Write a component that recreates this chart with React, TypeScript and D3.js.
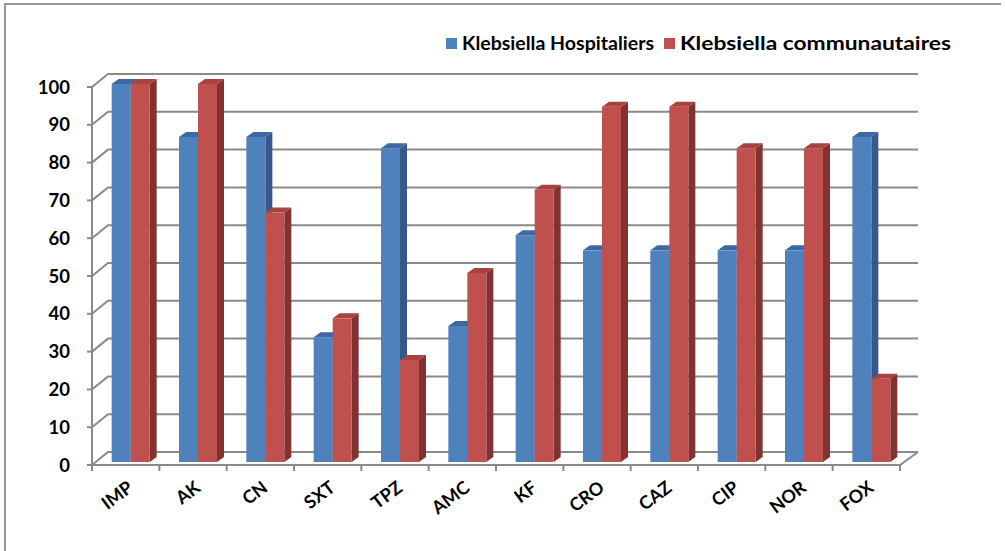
import React from "react";
import * as d3 from "d3";

const categories = ["IMP", "AK", "CN", "SXT", "TPZ", "AMC", "KF", "CRO", "CAZ", "CIP", "NOR", "FOX"];
const hospitaliers = [100, 86, 86, 33, 83, 36, 60, 56, 56, 56, 56, 86];
const communautaires = [100, 100, 66, 38, 27, 50, 72, 94, 94, 83, 83, 22];
const seriesNames = ["Klebsiella Hospitaliers", "Klebsiella communautaires"];
const yTicks = [0, 10, 20, 30, 40, 50, 60, 70, 80, 90, 100];

const W = 1005;
const H = 551;
const FONT = "Lato, 'Open Sans', sans-serif";

const palettes = [
  { front: "#4F81BD", side: "#36598A", top: "#3D68A3" },
  { front: "#C0504D", side: "#823331", top: "#A6423F" },
];

export default function App() {
  const x0 = 92;
  const x1 = 900;
  const yFront = d3.scaleLinear().domain([0, 100]).range([465, 87]);
  const band = d3.scaleBand().domain(categories).range([x0, x1]).padding(0);
  const wallDX = 16;
  const wallDY = -13;
  const barDX = 4;
  const barDY = -3;
  const barW = 19;
  const depX = 7;
  const depY = -5;
  const grid = "#8a8a8a";

  const series = [hospitaliers, communautaires];

  const bars: JSX.Element[] = [];
  categories.forEach((c, i) => {
    const center = (band(c) as number) + band.bandwidth() / 2 + 1 + barDX;
    series.forEach((vals, s) => {
      const v = vals[i];
      const xl = center - barW + s * barW;
      const xr = xl + barW;
      const yb = yFront(0) + barDY;
      const yt = yFront(v) + barDY;
      const p = palettes[s];
      bars.push(
        <g key={`${c}-${s}`}>
          <polygon
            points={`${xr},${yt} ${xr + depX},${yt + depY} ${xr + depX},${yb + depY} ${xr},${yb}`}
            fill={p.side}
          />
          <polygon
            points={`${xl},${yt} ${xl + depX},${yt + depY} ${xr + depX},${yt + depY} ${xr},${yt}`}
            fill={p.top}
          />
          <rect x={xl} y={yt} width={barW} height={yb - yt} fill={p.front} />
        </g>
      );
    });
  });

  const legendPos = [
    { x: 446, len: 192 },
    { x: 664, len: 271 },
  ];

  return (
    <svg width={W} height={H} style={{ position: "absolute", left: 0, top: 0, background: "#fff" }}>
      <rect x={0} y={0} width={W} height={H} fill="#fff" />
      {/* outer border */}
      <line x1={5} y1={3} x2={5} y2={H} stroke="#999" strokeWidth={2} />
      <line x1={4} y1={4} x2={1001} y2={4} stroke="#999" strokeWidth={2} />

      {/* back wall gridlines and left axis diagonals */}
      {yTicks.map((t) => {
        const yf = yFront(t);
        return (
          <g key={`g${t}`} stroke={grid} strokeWidth={2} fill="none">
            <line x1={x0 - 5} y1={yf} x2={x0} y2={yf} />
            <polyline points={`${x0},${yf} ${x0 + wallDX},${yf + wallDY} ${x1 + 18},${yf + wallDY}`} />
          </g>
        );
      })}
      {/* left axis */}
      <line x1={x0} y1={yFront(100)} x2={x0} y2={yFront(0) + 6} stroke={grid} strokeWidth={2} />
      {/* floor */}
      <polyline
        points={`${x0},${yFront(0)} ${x1},${yFront(0)} ${x1 + 18},${yFront(0) + wallDY}`}
        stroke={grid}
        strokeWidth={2}
        fill="none"
      />
      {categories.map((c) => (
        <line
          key={`ct${c}`}
          x1={(band(c) as number) + band.bandwidth()}
          x2={(band(c) as number) + band.bandwidth()}
          y1={yFront(0)}
          y2={yFront(0) + 6}
          stroke={grid}
          strokeWidth={2}
        />
      ))}

      {bars}

      {/* y labels */}
      {yTicks.map((t) => (
        <text
          key={`yl${t}`}
          x={70}
          y={yFront(t)}
          dy="0.36em"
          textAnchor="end"
          fontFamily={FONT}
          fontWeight="bold"
          fontSize={18.5}
          fill="#000"
        >
          {t}
        </text>
      ))}

      {/* x labels */}
      {categories.map((c) => {
        const cx = (band(c) as number) + band.bandwidth() / 2 + 1;
        const cy = 480;
        return (
          <text
            key={`xl${c}`}
            transform={`translate(${cx},${cy}) rotate(-37)`}
            textAnchor="end"
            dy="0.7em"
            fontFamily={FONT}
            fontWeight="bold"
            fontSize={18}
            fill="#000"
          >
            {c}
          </text>
        );
      })}

      {/* legend */}
      {seriesNames.map((n, s) => {
        const lx = legendPos[s].x;
        return (
          <g key={`lg${s}`}>
            <rect x={lx} y={38} width={11} height={11} fill={palettes[s].front} />
            <text
              x={lx + 16}
              y={44}
              dy="0.36em"
              fontFamily={FONT}
              fontWeight="bold"
              fontSize={18}
              textLength={legendPos[s].len}
              lengthAdjust="spacingAndGlyphs"
              fill="#000"
            >
              {n}
            </text>
          </g>
        );
      })}
    </svg>
  );
}
